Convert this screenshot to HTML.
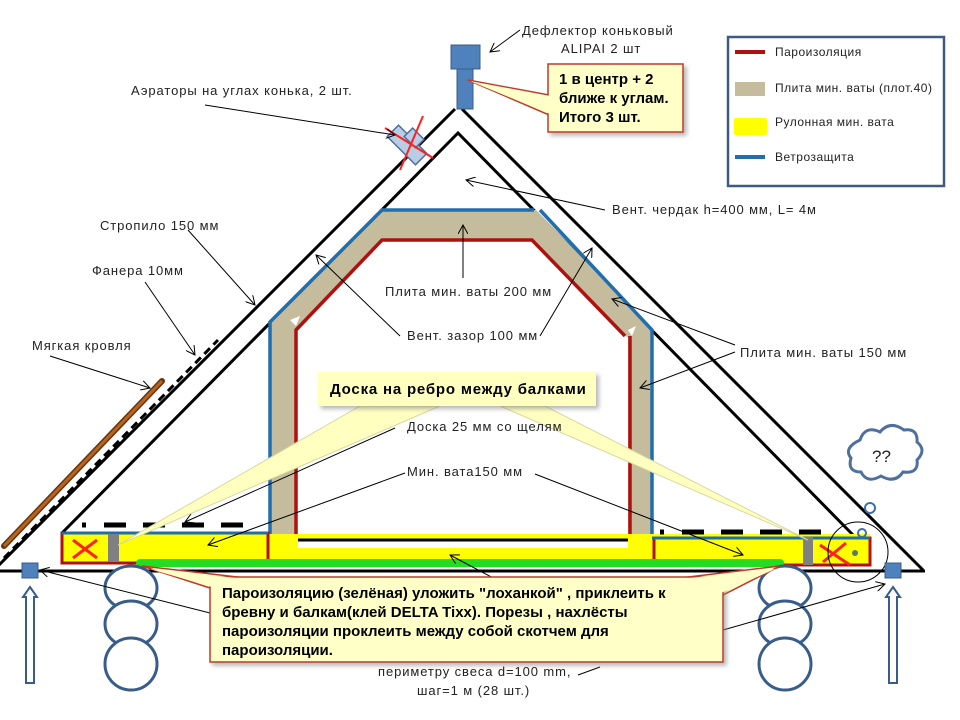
<!DOCTYPE html>
<html><head><meta charset="utf-8"><style>
html,body{margin:0;padding:0;background:#fff}
svg{display:block}
text{font-family:"Liberation Sans","DejaVu Sans",sans-serif;fill:#222}
.t{font-size:13px;letter-spacing:0.9px}
.l{font-size:12px;letter-spacing:0.5px}
.b{font-size:15px;font-weight:bold;fill:#000}
</style></head><body>
<svg width="960" height="720" viewBox="0 0 960 720" xmlns="http://www.w3.org/2000/svg">
<defs>
<marker id="a" markerWidth="10" markerHeight="10" refX="9" refY="5" orient="auto" markerUnits="userSpaceOnUse"><path d="M0,0 L9,5 L0,10" fill="none" stroke="#000" stroke-width="1"/></marker>
<filter id="sh" x="-10%" y="-10%" width="130%" height="140%"><feDropShadow dx="3" dy="3" stdDeviation="2" flood-color="#888" flood-opacity="0.6"/></filter>
</defs>

<line x1="455" y1="109" x2="-5" y2="569" stroke="#000" stroke-width="3"/>
<line x1="462" y1="109" x2="923" y2="570" stroke="#000" stroke-width="3"/>
<polyline points="62,533 458,133 855,537" fill="none" stroke="#000" stroke-width="3"/>
<line x1="0" y1="571" x2="925" y2="571" stroke="#000" stroke-width="3"/>

<line x1="4" y1="546" x2="162" y2="381" stroke="#6b3410" stroke-width="6" stroke-linecap="round"/>
<line x1="4" y1="546" x2="162" y2="381" stroke="#b5651d" stroke-width="3"/>
<line x1="4" y1="558" x2="218" y2="340" stroke="#000" stroke-width="3" stroke-dasharray="8,5"/>

<path d="M270,545 L270,322 L382,210 L536,210 L652,330 L652,545 L628,545 L628,338 L532,240 L382,240 L295,330 L295,545 Z" fill="#c4bc9c"/>
<polygon points="290,320 300,316 296,326" fill="#fff"/>
<polygon points="628,330 636,326 632,336" fill="#fff"/>
<polyline points="270,545 270,322 382,210 534,210" fill="none" stroke="#1f6fb0" stroke-width="3.5"/>
<polyline points="540,210 652,330 652,545" fill="none" stroke="#1f6fb0" stroke-width="3.5"/>
<polyline points="296,542 296,330 382,240 532,240 625,336" fill="none" stroke="#b01010" stroke-width="3.5"/>
<line x1="630" y1="336" x2="630" y2="542" stroke="#b01010" stroke-width="3.5"/>

<rect x="62" y="534" width="808" height="30" fill="#ffff00"/>
<rect x="62" y="533" width="206" height="30" fill="#ffff00" stroke="#b01010" stroke-width="3"/>
<line x1="62" y1="533" x2="268" y2="533" stroke="#1f6fb0" stroke-width="3"/>
<rect x="654" y="538" width="216" height="27" fill="#ffff00" stroke="#b01010" stroke-width="3"/>
<line x1="652" y1="538" x2="870" y2="538" stroke="#1f6fb0" stroke-width="3"/>
<rect x="298" y="540" width="330" height="8" fill="#fff"/>
<line x1="298" y1="540" x2="628" y2="540" stroke="#000" stroke-width="3"/>
<line x1="140" y1="563" x2="780" y2="563" stroke="#22dd22" stroke-width="8" stroke-linecap="round"/>
<rect x="108" y="534" width="11" height="28" fill="#808080"/>
<rect x="803" y="537" width="10" height="28" fill="#808080"/>
<line x1="82" y1="525" x2="255" y2="525" stroke="#000" stroke-width="5" stroke-dasharray="4,18,22,17,22,17,22,17,22,17"/>
<line x1="660" y1="532" x2="832" y2="532" stroke="#000" stroke-width="5" stroke-dasharray="4,18,22,17,22,17,22,17,22,17"/>
<g stroke="#ff2020" stroke-width="3"><line x1="73" y1="540" x2="97" y2="558"/><line x1="97" y1="540" x2="73" y2="558"/>
<line x1="820" y1="545" x2="850" y2="565"/><line x1="846" y1="543" x2="823" y2="562"/></g>
<circle cx="855" cy="553" r="3" fill="#5a7a5a"/>
<circle cx="862" cy="533" r="4" fill="none" stroke="#3f6fa8" stroke-width="2"/>
<circle cx="870" cy="508" r="5" fill="none" stroke="#3f6fa8" stroke-width="2"/>
<circle cx="858" cy="552" r="30" fill="none" stroke="#000" stroke-width="1"/>

<rect x="22" y="563" width="16" height="15" fill="#4f81bd" stroke="#385d8a"/>
<rect x="885" y="563" width="16" height="15" fill="#4f81bd" stroke="#385d8a"/>
<path d="M30,587 L37,597 L34,597 L34,683 L26,683 L26,597 L23,597 Z" fill="#fff" stroke="#385d8a" stroke-width="2"/>
<path d="M893,587 L900,597 L897,597 L897,683 L889,683 L889,597 L886,597 Z" fill="#fff" stroke="#385d8a" stroke-width="2"/>
<g fill="#fff" stroke="#385d8a" stroke-width="3">
<ellipse cx="131" cy="588" rx="26" ry="22"/><ellipse cx="131" cy="624" rx="26" ry="23"/><ellipse cx="131" cy="664" rx="26" ry="26"/>
<ellipse cx="785" cy="588" rx="26" ry="22"/><ellipse cx="785" cy="624" rx="26" ry="23"/><ellipse cx="785" cy="664" rx="26" ry="26"/>
</g>

<rect x="451" y="45" width="29" height="24" fill="#4f81bd" stroke="#385d8a"/>
<rect x="457" y="69" width="16" height="40" fill="#4f81bd" stroke="#385d8a"/>
<g transform="translate(407,145) rotate(45)">
<rect x="-20" y="-8" width="40" height="16" fill="#b9cde5" stroke="#4f6f9f" stroke-width="1.5"/>
<rect x="-8" y="-16" width="16" height="12" fill="#b9cde5" stroke="#4f6f9f" stroke-width="1.5"/>
</g>
<g stroke="#ff2020" stroke-width="2"><line x1="385" y1="128" x2="433" y2="158"/><line x1="423" y1="116" x2="400" y2="170"/></g>

<path d="M860,440 q5,-15 20,-8 q10,-12 24,-2 q14,-2 13,12 q10,8 0,18 q2,14 -14,12 q-8,12 -22,4 q-14,8 -20,-4 q-14,0 -10,-14 q-8,-10 9,-18 z" fill="#fff" stroke="#4f6f9f" stroke-width="3"/>
<text x="872" y="462" style="font-size:17px">??</text>

<g stroke="#000" stroke-width="1" fill="none" marker-end="url(#a)">
<line x1="520" y1="30" x2="490" y2="52"/>
<line x1="205" y1="105" x2="395" y2="135"/>
<line x1="605" y1="210" x2="466" y2="180"/>
<line x1="188" y1="230" x2="255" y2="305"/>
<line x1="145" y1="282" x2="195" y2="355"/>
<line x1="50" y1="356" x2="150" y2="388"/>
<line x1="463" y1="278" x2="463" y2="225"/>
<line x1="400" y1="336" x2="316" y2="255"/>
<line x1="540" y1="336" x2="592" y2="248"/>
<line x1="735" y1="345" x2="612" y2="299"/>
<line x1="735" y1="352" x2="640" y2="388"/>
<line x1="395" y1="428" x2="185" y2="522"/>
<line x1="405" y1="473" x2="208" y2="545"/>
<line x1="535" y1="474" x2="743" y2="555"/>
<line x1="525" y1="595" x2="450" y2="555"/>
<line x1="210" y1="613" x2="40" y2="570"/>
<line x1="723" y1="630" x2="885" y2="584"/>
</g>
<line x1="578" y1="675" x2="600" y2="667" stroke="#000" stroke-width="1"/>

<polygon points="360,406 440,406 118,545" fill="#ffffc0" stroke="#d8d8a0" stroke-width="1"/>
<polygon points="500,406 545,406 808,540" fill="#ffffc0" stroke="#d8d8a0" stroke-width="1"/>
<rect x="318" y="372" width="278" height="34" fill="#ffffc0" filter="url(#sh)"/>
<text x="330" y="394" class="b" style="letter-spacing:0.8px">Доска на ребро между балками</text>

<polygon points="549,95 468,80 549,115" fill="#ffffc8" stroke="#c0392b" stroke-width="1.5"/>
<rect x="548" y="64" width="135" height="68" fill="#ffffc8" stroke="#c0392b" stroke-width="1.5" filter="url(#sh)"/>
<polygon points="550,96 470,81 550,114" fill="#ffffc8"/>
<text x="559" y="84" class="b">1 в центр + 2</text>
<text x="559" y="103" class="b">ближе к углам.</text>
<text x="559" y="122" class="b">Итого 3 шт.</text>

<polygon points="210,588 142,566 246,578" fill="#ffffc8" stroke="#c0392b" stroke-width="1.5"/>
<polygon points="680,578 780,566 723,595" fill="#ffffc8" stroke="#c0392b" stroke-width="1.5"/>
<rect x="210" y="577" width="513" height="85" fill="#ffffc8" stroke="#c0392b" stroke-width="1.5" filter="url(#sh)"/>
<polygon points="212,587 150,569 246,579" fill="#ffffc8"/>
<polygon points="680,579 775,569 721,593" fill="#ffffc8"/>
<text x="222" y="598" class="b">Пароизоляцию (зелёная) уложить "лоханкой" , приклеить к</text>
<text x="222" y="617" class="b">бревну и балкам(клей DELTA Tixx). Порезы , нахлёсты</text>
<text x="222" y="636" class="b">пароизоляции проклеить между собой скотчем для</text>
<text x="222" y="655" class="b">пароизоляции.</text>

<text x="522" y="35" class="t">Дефлектор коньковый</text>
<text x="561" y="53" class="t">ALIPAI 2 шт</text>
<text x="131" y="95" class="t">Аэраторы на углах конька, 2 шт.</text>
<text x="612" y="214" class="t">Вент. чердак h=400 мм, L= 4м</text>
<text x="100" y="230" class="t">Стропило 150 мм</text>
<text x="92" y="275" class="t">Фанера 10мм</text>
<text x="32" y="350" class="t">Мягкая кровля</text>
<text x="385" y="296" class="t">Плита мин. ваты 200 мм</text>
<text x="407" y="340" class="t">Вент. зазор 100 мм</text>
<text x="740" y="357" class="t">Плита мин. ваты 150 мм</text>
<text x="407" y="431" class="t">Доска 25 мм со щелям</text>
<text x="407" y="476" class="t">Мин. вата150 мм</text>
<text x="378" y="676" class="t">периметру свеса  d=100 mm,</text>
<text x="417" y="695" class="t">шаг=1 м (28 шт.)</text>

<rect x="728" y="37" width="216" height="149" fill="#fff" stroke="#3f5a80" stroke-width="2.5"/>
<rect x="735" y="50" width="30" height="4" fill="#b01010"/>
<rect x="735" y="82" width="30" height="14" fill="#c4bc9c"/>
<rect x="734" y="118" width="33" height="17" rx="2" fill="#ffff00"/>
<rect x="735" y="155" width="30" height="4" fill="#1f6fb0"/>
<text x="775" y="56" class="l">Пароизоляция</text>
<text x="775" y="92" class="l">Плита мин. ваты (плот.40)</text>
<text x="775" y="126" class="l">Рулонная мин. вата</text>
<text x="775" y="161" class="l">Ветрозащита</text>
</svg>
</body></html>
